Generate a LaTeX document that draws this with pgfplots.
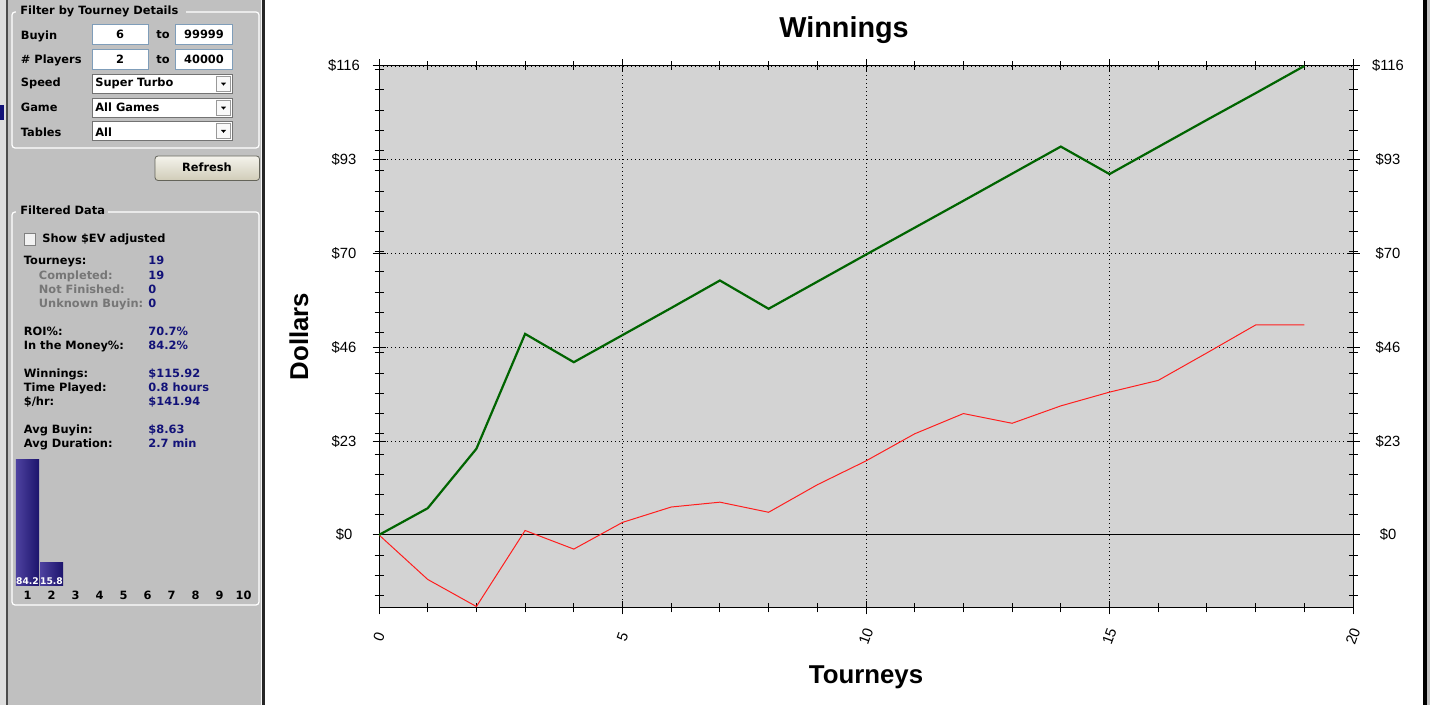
\documentclass[border=0pt]{standalone}
\usepackage{fontspec}
\setmainfont{Liberation Sans}
\newfontfamily\ui{DejaVu Sans}
\usepackage{pgfplots}
\usepackage{pgfplotstable}
\pgfplotsset{compat=1.18}
\definecolor{panel}{RGB}{192,192,192}
\definecolor{strip}{RGB}{222,222,222}
\definecolor{plotbg}{RGB}{211,211,211}
\definecolor{navytxt}{RGB}{18,18,120}
\definecolor{graytxt}{RGB}{118,118,118}
\definecolor{tbborder}{RGB}{127,157,185}
\definecolor{btntop}{RGB}{244,243,236}
\definecolor{btnbot}{RGB}{208,204,184}
\definecolor{btnborder}{RGB}{100,100,90}
\definecolor{barlight}{RGB}{78,66,160}
\definecolor{bardark}{RGB}{28,20,108}
\definecolor{winline}{RGB}{0,100,0}
\definecolor{evline}{RGB}{255,30,30}
\newcommand\uif{\ui\bfseries\fontsize{5.7}{6.8}\selectfont}

\pgfplotstableread{
x y
0 0
1 6.6
2 21.3
3 49.7
4 42.7
5 49.4
6 56.1
7 62.9
8 55.9
9 62.6
10 69.3
11 75.95
12 82.6
13 89.3
14 96.0
15 89.2
16 95.9
17 102.6
18 109.2
19 115.92
}\wintable
\pgfplotstableread{
x y
0 0
1 -11.0
2 -17.7
3 1.1
4 -3.5
5 3.1
6 6.9
7 8.1
8 5.6
9 12.4
10 18.3
11 25.0
12 30.0
13 27.6
14 31.9
15 35.3
16 38.2
17 45.0
18 51.9
19 51.9
}\evtable

\begin{document}
\begin{tikzpicture}
\path[use as bounding box] (0,0) rectangle (715pt,352.5pt);
% ---------- window chrome and side panel (pixel coordinates) ----------
\begin{scope}[shift={(0,352.5pt)},x=0.5pt,y=-0.5pt,every node/.style={inner sep=0pt,font=\uif}]
  \fill[panel] (0,0) rectangle (262,705);
  \fill[strip] (0,0) rectangle (5.5,705);
  \fill[black!70] (5.5,0) rectangle (7.5,705);
  \fill[navytxt] (0,105) rectangle (4,120);
  \fill[white!85!panel] (260.5,0) rectangle (262,705);
  \fill[black!85] (262,0) rectangle (265,705);
  \fill[white] (265,0) rectangle (1423,705);
  \fill[black] (1423,0) rectangle (1426.5,705);
  \fill[panel] (1426.5,0) rectangle (1430,705);
  % group box 1
  \draw[white,line width=0.6pt,rounded corners=1.5] (12,12) rectangle (259,148);
  \fill[panel] (16,4) rectangle (186,19);
  \node[anchor=base west] at (20,15) {Filter by Tourney Details};
  \node[anchor=base west] at (20.5,39.3) {Buyin};
  \draw[tbborder,fill=white] (92,24) rectangle (148,44.5);
  \node[anchor=base] at (120,39) {6};
  \node[anchor=base west] at (156,39) {to};
  \draw[tbborder,fill=white] (175.5,24) rectangle (232.5,44.5);
  \node[anchor=base] at (204,39) {99999};
  \node[anchor=base west] at (20.5,63.3) {\# Players};
  \draw[tbborder,fill=white] (92,49) rectangle (148,69.5);
  \node[anchor=base] at (120,63.3) {2};
  \node[anchor=base west] at (156,63.3) {to};
  \draw[tbborder,fill=white] (175.5,49) rectangle (232.5,69.5);
  \node[anchor=base] at (204,63.3) {40000};
  % combos
  \foreach \yt/\yb/\lab/\ttx/\bl in {74/93.5/Speed/Super Turbo/87, 98.5/117/Game/All Games/112, 121.5/140.5/Tables/All/136.5}{
    \node[anchor=base west] at (20.5,\bl) {\lab};
    \draw[gray!90!black,fill=white] (92,\yt) rectangle (232.5,\yb);
    \draw[gray!80,fill=white!90!panel] (216.5,\yt+2) rectangle (230.5,\yb-2);
    \fill[black] (221,{(\yt+\yb)/2-1}) -- (226,{(\yt+\yb)/2-1}) -- (223.5,{(\yt+\yb)/2+1.8}) -- cycle;
    \node[anchor=base west] at (95,\bl) {\ttx};
  }
  % refresh button
  \draw[btnborder,rounded corners=1.5,top color=btntop,bottom color=btnbot] (155,156) rectangle (259.5,180.5);
  \node[anchor=base] at (207,172) {Refresh};
  % group box 2
  \draw[white,line width=0.6pt,rounded corners=1.5] (12,212) rectangle (259,605);
  \fill[panel] (16,204) rectangle (108,219);
  \node[anchor=base west] at (20,215) {Filtered Data};
  \draw[gray,fill=white!80!panel] (24.5,233) rectangle (35.5,245);
  \node[anchor=base west] at (42,242.7) {Show \$EV adjusted};
  % statistics
  \node[anchor=base west] at (23.5,265) {Tourneys:};
  \node[anchor=base west,text=navytxt] at (148,265) {19};
  \node[anchor=base west,text=graytxt] at (38.5,279.3) {Completed:};
  \node[anchor=base west,text=navytxt] at (148,279.3) {19};
  \node[anchor=base west,text=graytxt] at (38.5,293.3) {Not Finished:};
  \node[anchor=base west,text=navytxt] at (148,293.3) {0};
  \node[anchor=base west,text=graytxt] at (38.5,307.3) {Unknown Buyin:};
  \node[anchor=base west,text=navytxt] at (148,307.3) {0};
  \node[anchor=base west] at (23.5,335.3) {ROI\%:};
  \node[anchor=base west,text=navytxt] at (148,335.3) {70.7\%};
  \node[anchor=base west] at (23.5,349.3) {In the Money\%:};
  \node[anchor=base west,text=navytxt] at (148,349.3) {84.2\%};
  \node[anchor=base west] at (23.5,377.3) {Winnings:};
  \node[anchor=base west,text=navytxt] at (148,377.3) {\$115.92};
  \node[anchor=base west] at (23.5,391.3) {Time Played:};
  \node[anchor=base west,text=navytxt] at (148,391.3) {0.8 hours};
  \node[anchor=base west] at (23.5,405.3) {\$/hr:};
  \node[anchor=base west,text=navytxt] at (148,405.3) {\$141.94};
  \node[anchor=base west] at (23.5,433.3) {Avg Buyin:};
  \node[anchor=base west,text=navytxt] at (148,433.3) {\$8.63};
  \node[anchor=base west] at (23.5,447.3) {Avg Duration:};
  \node[anchor=base west,text=navytxt] at (148,447.3) {2.7 min};
\end{scope}

% ---------- finishing-position histogram ----------
\begin{axis}[at={(7.75pt,59.65pt)},anchor=south west,scale only axis,
  width=120pt,height=62.85pt,xmin=0.5,xmax=10.5,ymin=0,ymax=84.2,
  axis line style={draw=none},ytick=\empty,xtick={1,...,10},
  xticklabels={1,2,3,4,5,6,7,8,9,10},
  major tick length=0pt,clip=false,
  xticklabel style={font=\uif,anchor=base,yshift=-7pt,inner sep=0pt}]
  \addplot[ybar,bar width=11.5pt,draw=none,left color=barlight,right color=bardark] coordinates {(1,84.2)};
  \addplot[ybar,bar width=11.5pt,draw=none,left color=barlight,right color=bardark] coordinates {(2,15.8)};
  \addplot[draw=none,mark=none,nodes near coords,point meta=explicit symbolic,
    every node near coord/.style={anchor=base,text=white,inner sep=0pt,yshift=0.6pt,
      font=\ui\bfseries\fontsize{4.6}{5.5}\selectfont}]
    coordinates {(1,0) [84.2] (2,0) [15.8]};
\end{axis}

% ---------- main chart ----------
\begin{axis}[at={(189.5pt,48.5pt)},anchor=south west,scale only axis,
  width=487pt,height=271pt,
  xmin=0,xmax=20,ymin=-18.06,ymax=115.92,
  axis background/.style={fill=plotbg},
  xtick={0,5,10,15,20},xticklabels={0,5,10,15,20},
  minor xtick={1,...,19},
  ytick={0,23.184,46.368,69.552,92.736,115.92},
  yticklabels={\$0,\$23,\$46,\$70,\$93,\$116},
  minor ytick={-15,-10,...,115},
  xmajorgrids,ymajorgrids,
  major grid style={black,line width=0.45pt,dash pattern=on 0.5pt off 1.5pt},
  tick align=center,major tick length=6.5pt,minor tick length=4.5pt,
  tick style={black,line width=0.5pt},
  axis line style={black,line width=0.5pt},
  yticklabel style={font=\fontsize{7.4}{8.9}\selectfont,anchor=center,xshift=-14.25pt},
  xticklabel style={font=\fontsize{7.4}{8.9}\selectfont,anchor=center,yshift=-11pt,rotate=70}]
  \addplot[black,line width=0.5pt,forget plot] coordinates {(0,0) (20,0)};
  \addplot[evline,line width=0.5pt] table[x=x,y=y] {\evtable};
  \addplot[winline,line width=1.1pt] table[x=x,y=y] {\wintable};
\end{axis}
% right-hand tick labels
\begin{axis}[at={(189.5pt,48.5pt)},anchor=south west,scale only axis,
  width=487pt,height=271pt,
  xmin=0,xmax=20,ymin=-18.06,ymax=115.92,
  hide x axis,axis line style={draw=none},
  ytick={0,23.184,46.368,69.552,92.736,115.92},
  yticklabels={\$0,\$23,\$46,\$70,\$93,\$116},
  yticklabel pos=right,
  tick align=center,major tick length=6.5pt,ytick style={draw=none},
  yticklabel style={font=\fontsize{7.4}{8.9}\selectfont,anchor=center,xshift=14.25pt}]
  \addplot[draw=none] coordinates {(0,0)};
\end{axis}

\node[font=\bfseries\fontsize{14.4}{17}\selectfont,anchor=base,inner sep=0pt] at (422pt,333.75pt) {Winnings};
\node[font=\bfseries\fontsize{12.9}{15}\selectfont,rotate=90,inner sep=0pt] at (149.5pt,184.25pt) {Dollars};
\node[font=\bfseries\fontsize{12.9}{15}\selectfont,anchor=base,inner sep=0pt] at (433pt,10.5pt) {Tourneys};
\end{tikzpicture}
\end{document}
